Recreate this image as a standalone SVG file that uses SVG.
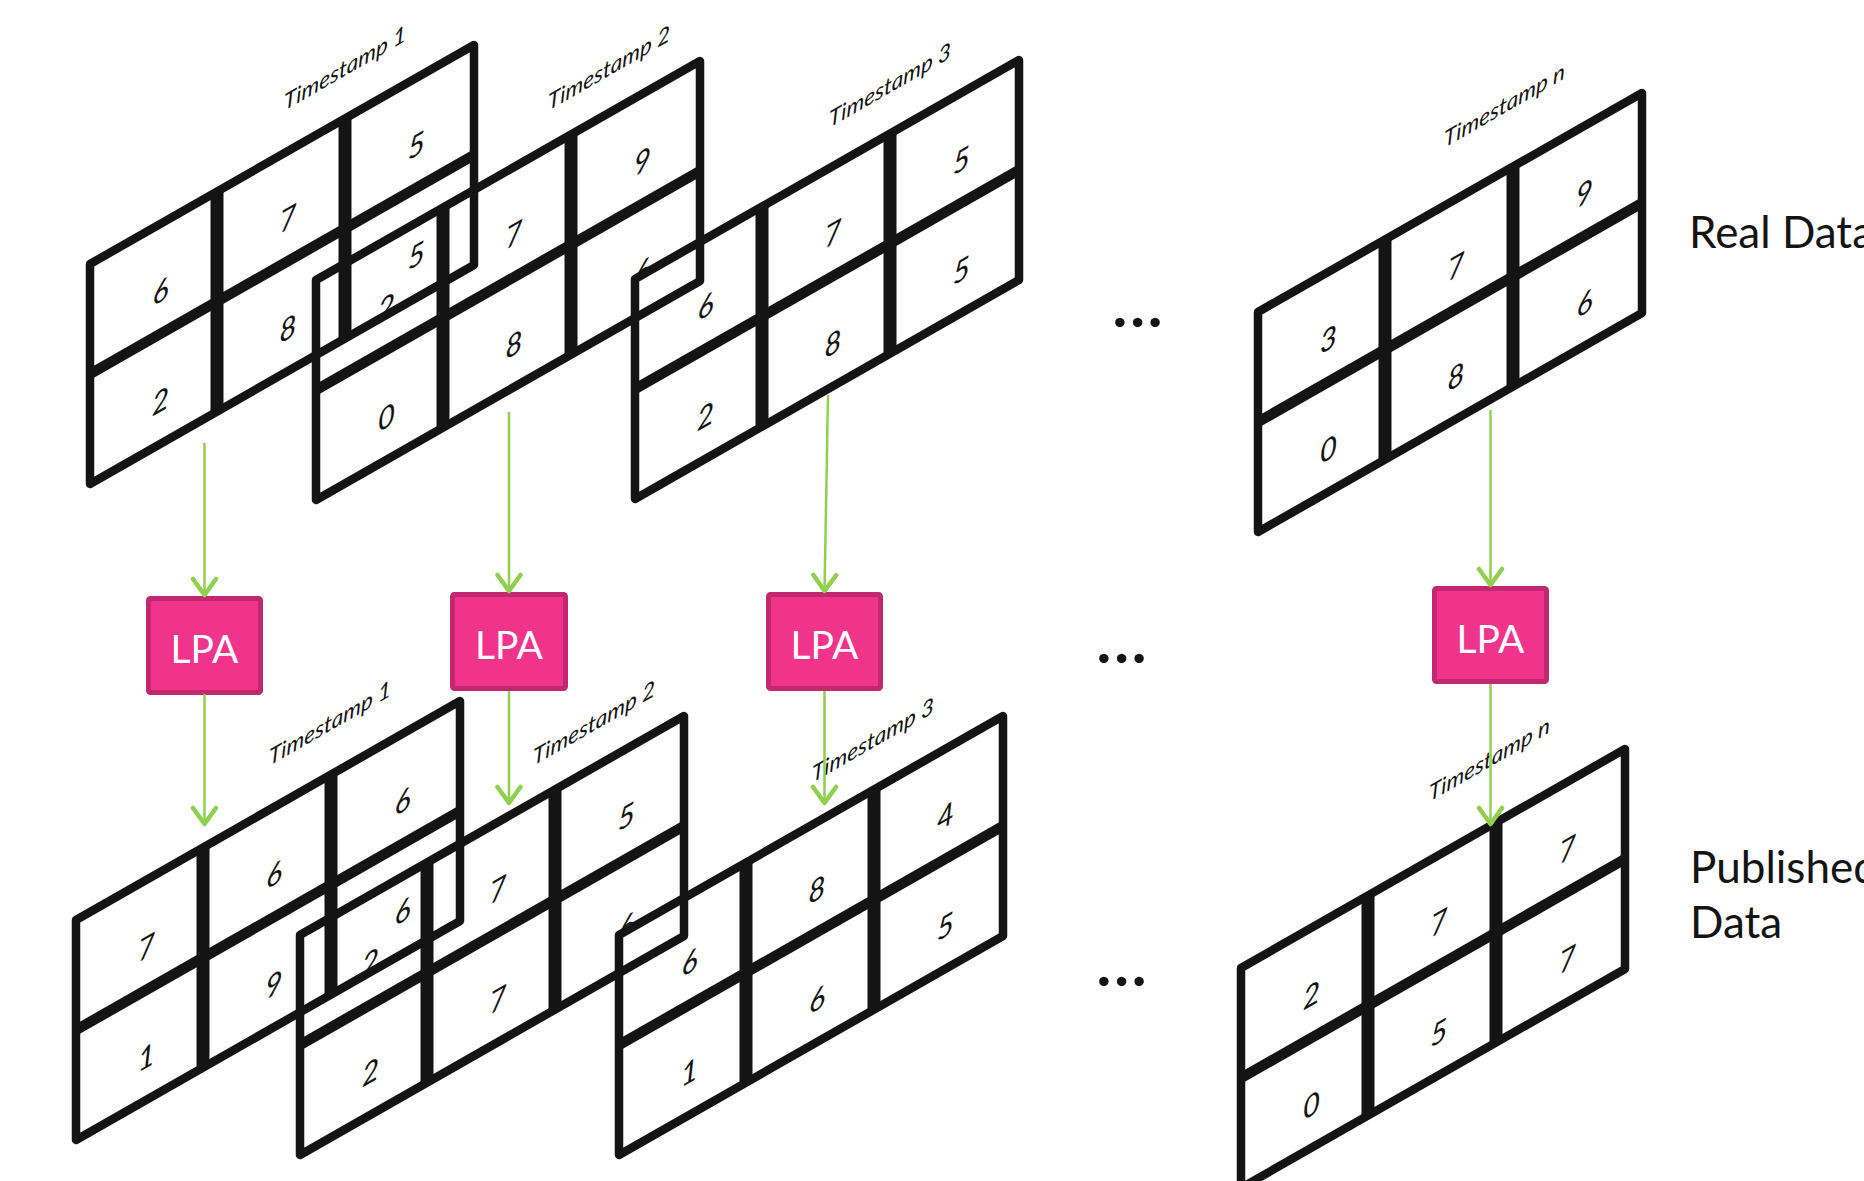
<svg xmlns="http://www.w3.org/2000/svg" xmlns:xlink="http://www.w3.org/1999/xlink" width="1864" height="1181" viewBox="0 0 1864 1181">
  <style>
    .inner { fill: none; stroke: #141414; stroke-linecap: butt; }
    .mid { stroke-width: 10.5; }
    .col { stroke-width: 13; }
    .outer { fill: none; stroke: #141414; stroke-width: 8.5; stroke-linejoin: round; }
    .cell { font-family: Lato, "Open Sans", sans-serif; font-style: italic; font-size: 30px; fill: #141414; text-anchor: middle; }
    .ts { font-family: Lato, "Open Sans", sans-serif; font-style: italic; font-size: 22.5px; fill: #141414; }
    .lpa-box { fill: #F0348B; stroke: #C2286F; stroke-width: 5; }
    .lpa-text { font-family: Lato, "Open Sans", sans-serif; font-size: 39px; fill: #FFFFFF; text-anchor: middle; }
    .side { font-family: Lato, "Open Sans", sans-serif; font-size: 44px; fill: #141414; }
    .dots { font-family: Lato, "Open Sans", sans-serif; font-weight: bold; font-size: 62px; letter-spacing: 3px; fill: #141414; text-anchor: middle; }
    .flow { fill: none; stroke: #8FD14F; stroke-width: 2.5; marker-end: url(#vhead); }
  </style>
  <defs>
    <!-- 3 x 2 sheared table, origin at the bottom-left corner -->
    <g id="frame">
      <path class="inner mid" d="M0,-110 L384,-329"/>
      <path class="inner col" d="M127,-72.4 L127,-292.4 M255,-145.4 L255,-365.4"/>
      <path class="outer" d="M0,0 L0,-220 L384,-439 L384,-219 Z"/>
    </g>
    <marker id="vhead" viewBox="-22 -15 26 30" refX="0" refY="0" markerWidth="26" markerHeight="30" markerUnits="userSpaceOnUse" orient="auto">
      <path d="M-17,-11.5 L-1,0 L-17,11.5" fill="none" stroke="#8FD14F" stroke-width="4.5" stroke-linecap="round" stroke-linejoin="round"/>
    </marker>
    <!-- half-planes above a neighbouring table's edge, in the local space of the table they clip -->
    <clipPath id="clip-t2-a" clipPathUnits="userSpaceOnUse"><polygon points="-226,-16 158,-235 158,-700 -226,-700"/></clipPath>
    <clipPath id="clip-t2-b" clipPathUnits="userSpaceOnUse"><polygon points="250,-181.6 703,-440 703,-700 250,-700"/></clipPath>
    <clipPath id="clip-b2-a" clipPathUnits="userSpaceOnUse"><polygon points="-224,-15 160,-234 160,-700 -224,-700"/></clipPath>
    <clipPath id="clip-b2-b" clipPathUnits="userSpaceOnUse"><polygon points="250,-180.6 703,-439 703,-700 250,-700"/></clipPath>
  </defs>

  <!-- Real data tables -->
  <g id="real-t1" transform="translate(90,484)">
    <text class="ts" transform="translate(194,-373) skewY(-30)">Timestamp 1</text>
    <text class="cell" transform="translate(70.5,-192.2) skewY(-29.7)" y="10">6</text>
    <text class="cell" transform="translate(198,-264.9) skewY(-29.7)" y="10">7</text>
    <text class="cell" transform="translate(326.5,-338.2) skewY(-29.7)" y="10">5</text>
    <text class="cell" transform="translate(70.5,-82.2) skewY(-29.7)" y="10">2</text>
    <text class="cell" transform="translate(198,-154.9) skewY(-29.7)" y="10">8</text>
    <text class="cell" transform="translate(326.5,-228.2) skewY(-29.7)" y="10">5</text>
    <use href="#frame"/>
  </g>
  <g id="real-t2" transform="translate(316,500)">
    <text class="ts" transform="translate(232,-389) skewY(-30)">Timestamp 2</text>
    <g clip-path="url(#clip-t2-a)"><text class="cell" transform="translate(70.5,-192.2) skewY(-29.7)" y="10">2</text></g>
    <text class="cell" transform="translate(198,-264.9) skewY(-29.7)" y="10">7</text>
    <text class="cell" transform="translate(326.5,-338.2) skewY(-29.7)" y="10">9</text>
    <text class="cell" transform="translate(70.5,-82.2) skewY(-29.7)" y="10">0</text>
    <text class="cell" transform="translate(198,-154.9) skewY(-29.7)" y="10">8</text>
    <g clip-path="url(#clip-t2-b)"><text class="cell" transform="translate(326.5,-228.2) skewY(-29.7)" y="10">6</text></g>
    <use href="#frame"/>
  </g>
  <g id="real-t3" transform="translate(635,499)">
    <text class="ts" transform="translate(194,-371) skewY(-30)">Timestamp 3</text>
    <text class="cell" transform="translate(70.5,-192.2) skewY(-29.7)" y="10">6</text>
    <text class="cell" transform="translate(198,-264.9) skewY(-29.7)" y="10">7</text>
    <text class="cell" transform="translate(326.5,-338.2) skewY(-29.7)" y="10">5</text>
    <text class="cell" transform="translate(70.5,-82.2) skewY(-29.7)" y="10">2</text>
    <text class="cell" transform="translate(198,-154.9) skewY(-29.7)" y="10">8</text>
    <text class="cell" transform="translate(326.5,-228.2) skewY(-29.7)" y="10">5</text>
    <use href="#frame"/>
  </g>
  <g id="real-tn" transform="translate(1258,532)">
    <text class="ts" transform="translate(186,-384) skewY(-30)">Timestamp n</text>
    <text class="cell" transform="translate(70.5,-192.2) skewY(-29.7)" y="10">3</text>
    <text class="cell" transform="translate(198,-264.9) skewY(-29.7)" y="10">7</text>
    <text class="cell" transform="translate(326.5,-338.2) skewY(-29.7)" y="10">9</text>
    <text class="cell" transform="translate(70.5,-82.2) skewY(-29.7)" y="10">0</text>
    <text class="cell" transform="translate(198,-154.9) skewY(-29.7)" y="10">8</text>
    <text class="cell" transform="translate(326.5,-228.2) skewY(-29.7)" y="10">6</text>
    <use href="#frame"/>
  </g>

  <!-- Published data tables -->
  <g id="pub-t1" transform="translate(76,1140)">
    <text class="ts" transform="translate(193,-374) skewY(-30)">Timestamp 1</text>
    <text class="cell" transform="translate(70.5,-192.2) skewY(-29.7)" y="10">7</text>
    <text class="cell" transform="translate(198,-264.9) skewY(-29.7)" y="10">6</text>
    <text class="cell" transform="translate(326.5,-338.2) skewY(-29.7)" y="10">6</text>
    <text class="cell" transform="translate(70.5,-82.2) skewY(-29.7)" y="10">1</text>
    <text class="cell" transform="translate(198,-154.9) skewY(-29.7)" y="10">9</text>
    <text class="cell" transform="translate(326.5,-228.2) skewY(-29.7)" y="10">6</text>
    <use href="#frame"/>
  </g>
  <g id="pub-t2" transform="translate(300,1155)">
    <text class="ts" transform="translate(233,-389) skewY(-30)">Timestamp 2</text>
    <g clip-path="url(#clip-b2-a)"><text class="cell" transform="translate(70.5,-192.2) skewY(-29.7)" y="10">2</text></g>
    <text class="cell" transform="translate(198,-264.9) skewY(-29.7)" y="10">7</text>
    <text class="cell" transform="translate(326.5,-338.2) skewY(-29.7)" y="10">5</text>
    <text class="cell" transform="translate(70.5,-82.2) skewY(-29.7)" y="10">2</text>
    <text class="cell" transform="translate(198,-154.9) skewY(-29.7)" y="10">7</text>
    <g clip-path="url(#clip-b2-b)"><text class="cell" transform="translate(326.5,-228.2) skewY(-29.7)" y="10">6</text></g>
    <use href="#frame"/>
  </g>
  <g id="pub-t3" transform="translate(619,1155)">
    <text class="ts" transform="translate(193,-372) skewY(-30)">Timestamp 3</text>
    <text class="cell" transform="translate(70.5,-192.2) skewY(-29.7)" y="10">6</text>
    <text class="cell" transform="translate(198,-264.9) skewY(-29.7)" y="10">8</text>
    <text class="cell" transform="translate(326.5,-338.2) skewY(-29.7)" y="10">4</text>
    <text class="cell" transform="translate(70.5,-82.2) skewY(-29.7)" y="10">1</text>
    <text class="cell" transform="translate(198,-154.9) skewY(-29.7)" y="10">6</text>
    <text class="cell" transform="translate(326.5,-228.2) skewY(-29.7)" y="10">5</text>
    <use href="#frame"/>
  </g>
  <g id="pub-tn" transform="translate(1241,1188)">
    <text class="ts" transform="translate(188,-386) skewY(-30)">Timestamp n</text>
    <text class="cell" transform="translate(70.5,-192.2) skewY(-29.7)" y="10">2</text>
    <text class="cell" transform="translate(198,-264.9) skewY(-29.7)" y="10">7</text>
    <text class="cell" transform="translate(326.5,-338.2) skewY(-29.7)" y="10">7</text>
    <text class="cell" transform="translate(70.5,-82.2) skewY(-29.7)" y="10">0</text>
    <text class="cell" transform="translate(198,-154.9) skewY(-29.7)" y="10">5</text>
    <text class="cell" transform="translate(326.5,-228.2) skewY(-29.7)" y="10">7</text>
    <use href="#frame"/>
  </g>

  <!-- LPA steps -->
  <g id="lpa-1"><rect class="lpa-box" x="148.5" y="598.5" width="112" height="94" rx="2"/><text class="lpa-text" x="204.5" y="663">LPA</text></g>
  <g id="lpa-2"><rect class="lpa-box" x="452.5" y="594.5" width="113" height="94" rx="2"/><text class="lpa-text" x="509" y="659">LPA</text></g>
  <g id="lpa-3"><rect class="lpa-box" x="768.5" y="594.5" width="112" height="94" rx="2"/><text class="lpa-text" x="824.5" y="659">LPA</text></g>
  <g id="lpa-n"><rect class="lpa-box" x="1434.5" y="588.5" width="112" height="93" rx="2"/><text class="lpa-text" x="1490.5" y="653">LPA</text></g>

  <!-- Ellipses between timestamps -->
  <g id="ellipses">
    <text class="dots" x="1139" y="327">...</text>
    <text class="dots" x="1123" y="663">...</text>
    <text class="dots" x="1123" y="986">...</text>
  </g>

  <!-- Row captions -->
  <g id="captions">
    <text class="side" x="1689" y="248">Real Data</text>
    <text class="side" x="1690" y="883">Published</text>
    <text class="side" x="1690" y="938">Data</text>
  </g>

  <!-- Connectors -->
  <g id="connectors">
    <path class="flow" d="M204.5,443 L204.5,596"/>
    <path class="flow" d="M204.5,694 L204.5,825"/>
    <path class="flow" d="M509,412 L509,592"/>
    <path class="flow" d="M509,691 L509,804"/>
    <path class="flow" d="M828,395 L824.5,592"/>
    <path class="flow" d="M824.5,691 L824.5,804"/>
    <path class="flow" d="M1490.5,410 L1490.5,586"/>
    <path class="flow" d="M1490.5,684 L1490.5,825"/>
  </g>
</svg>
